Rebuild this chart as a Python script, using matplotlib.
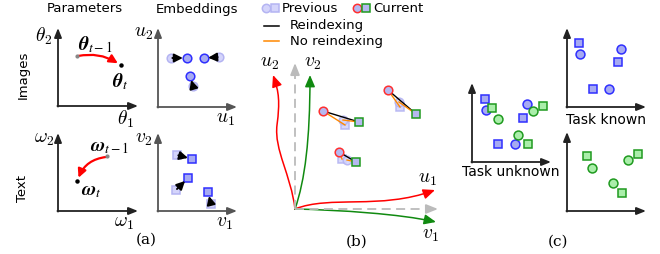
import matplotlib
matplotlib.use("Agg")
import matplotlib.pyplot as plt
from matplotlib.patches import FancyArrowPatch
from matplotlib.path import Path

plt.rcParams["mathtext.fontset"] = "cm"
plt.rcParams["font.family"] = "DejaVu Sans"

# ---- data (pixel space of the 660x254 figure) ----
# (a) embeddings: previous -> current
img_prev = [(171, 58), (219, 57), (193, 86)]
img_curr = [(187, 58), (204, 58), (190, 76)]
txt_prev = [(177, 155), (176, 190), (211, 204)]
txt_curr = [(192, 159), (188, 178), (208, 192)]

# (b) matched pairs
b_curr_circ = [(323, 111), (388, 90), (339, 152)]
b_prev_circ = [(343, 120), (399, 102), (347, 160)]
b_prev_sq = [(345, 125), (400, 107), (342, 159)]
b_curr_sq = [(359, 122), (416, 114), (356, 162)]

# (c) task unknown / known
unk_blue_sq = [(485, 99), (523, 118), (498, 144)]
unk_blue_ci = [(486, 110), (527, 104), (515, 144)]
unk_green_sq = [(492, 108), (543, 106), (528, 144)]
unk_green_ci = [(498, 119), (533, 111), (518, 135)]
kn_blue_sq = [(579, 43), (618, 62), (593, 89)]
kn_blue_ci = [(580, 54), (621, 49), (609, 89)]
kn_green_sq = [(587, 156), (638, 154), (622, 193)]
kn_green_ci = [(592, 168), (628, 160), (613, 183)]

# (b) basis curves, cubic bezier control points (one or two segments)
origin_b = (295, 209)
u1_ctrl = [(330, 195), (380, 210), (435, 190)]
v1_ctrl = [(340, 210), (400, 214), (436, 222)]
u2_ctrl = [(291, 175), (274, 150), (277, 125), (280, 102), (279, 92), (273, 75)]
v2_ctrl = [(305, 180), (310, 140), (310, 75)]

LIGHT_F, LIGHT_E = "#d4d4fb", "#b4b4f2"
BLUE_F, BLUE_E = "#a6aaf2", "#2f2fff"
GREEN_F, GREEN_E = "#aaeeaa", "#1f9a1f"
CUR_F = "#b6b8f0"

fig = plt.figure(figsize=(6.6, 2.54), dpi=100)
ax = fig.add_axes([0, 0, 1, 1])
ax.set_xlim(0, 660)
ax.set_ylim(254, 0)
ax.axis("off")


def axis_pair(x0, y0, x1, ytop, color="#222222"):
    kw = dict(arrowstyle="-|>,head_length=0.55,head_width=0.22", color=color, lw=1.3,
              shrinkA=0, shrinkB=0)
    ax.annotate("", xy=(x1, y0), xytext=(x0 - 0.6, y0), arrowprops=kw)
    ax.annotate("", xy=(x0, ytop), xytext=(x0, y0 + 0.6), arrowprops=kw)


def pts(lst, marker, face, edge, ms, alpha=1.0, z=3):
    xs = [p[0] for p in lst]
    ys = [p[1] for p in lst]
    ax.plot(xs, ys, ls="none", marker=marker, ms=ms, mfc=face, mec=edge, mew=1.1,
            alpha=alpha, zorder=z)


def small_arrow(a, b):
    ax.annotate("", xy=b, xytext=a,
                arrowprops=dict(arrowstyle="-|>,head_length=0.5,head_width=0.25",
                                color="black", lw=1.4, shrinkA=1, shrinkB=3), zorder=4)


# ---------------- (a) ----------------
ax.text(85, 9, "Parameters", ha="center", va="center", fontsize=9.5)
ax.text(197, 9, "Embeddings", ha="center", va="center", fontsize=9.5)
ax.text(23, 75, "Images", ha="center", va="center", rotation=90, fontsize=9.5)
ax.text(23, 188, "Text", ha="center", va="center", rotation=90, fontsize=9.5)

axis_pair(58, 106, 138, 28)
axis_pair(58, 211, 138, 133)
axis_pair(158, 107, 237, 28, color="#555555")
axis_pair(158, 211, 237, 133, color="#555555")

ax.text(44, 36, r"$\theta_2$", ha="center", va="center", fontsize=14)
ax.text(125, 119, r"$\theta_1$", ha="center", va="center", fontsize=14)
ax.text(44, 139, r"$\omega_2$", ha="center", va="center", fontsize=14)
ax.text(124, 223, r"$\omega_1$", ha="center", va="center", fontsize=14)
ax.text(144, 33, r"$u_2$", ha="center", va="center", fontsize=14)
ax.text(225, 119, r"$u_1$", ha="center", va="center", fontsize=14)
ax.text(144, 138, r"$v_2$", ha="center", va="center", fontsize=14)
ax.text(225, 222, r"$v_1$", ha="center", va="center", fontsize=14)

ax.text(95, 45, r"$\boldsymbol{\theta}_{t-1}$", ha="center", va="center", fontsize=14,
        math_fontfamily="stix")
ax.text(120, 82, r"$\boldsymbol{\theta}_{t}$", ha="center", va="center", fontsize=14,
        math_fontfamily="stix")
ax.text(110, 146, r"$\boldsymbol{\omega}_{t-1}$", ha="center", va="center", fontsize=14,
        math_fontfamily="stix")
ax.text(91, 191, r"$\boldsymbol{\omega}_{t}$", ha="center", va="center", fontsize=14,
        math_fontfamily="stix")

ax.plot([77], [56], marker="o", ms=2, color="#888888", zorder=4)
ax.plot([121, 77], [65, 181], ls="none", marker="o", ms=2.2, color="black", zorder=4)
ax.plot([107], [156], marker="o", ms=2, color="#888888", zorder=4)
ax.add_patch(FancyArrowPatch((78, 56), (119, 64), connectionstyle="arc3,rad=-0.2",
                             arrowstyle="-|>,head_length=5,head_width=2.5", color="red",
                             lw=1.6, shrinkA=0, shrinkB=1))
ax.add_patch(FancyArrowPatch((106, 157), (78, 179), connectionstyle="arc3,rad=0.3",
                             arrowstyle="-|>,head_length=5,head_width=2.5", color="red",
                             lw=1.6, shrinkA=0, shrinkB=1))

pts(img_prev, "o", LIGHT_F, LIGHT_E, 6.2)
pts(img_curr, "o", BLUE_F, BLUE_E, 6.2)
pts(txt_prev, "s", LIGHT_F, LIGHT_E, 6.2)
pts(txt_curr, "s", BLUE_F, BLUE_E, 6.2)
for a, b in zip(img_prev + txt_prev, img_curr + txt_curr):
    small_arrow(a, b)

ax.text(146, 240, "(a)", ha="center", va="center", fontsize=11, family="DejaVu Serif")

# ---------------- (b) legend ----------------
ax.plot([266], [8], marker="o", ms=6, mfc=LIGHT_F, mec=LIGHT_E, mew=1.1)
ax.plot([275], [8], marker="s", ms=6, mfc=LIGHT_F, mec=LIGHT_E, mew=1.1)
ax.text(282, 8, "Previous", ha="left", va="center", fontsize=9.5)
ax.plot([357], [8], marker="o", ms=6, mfc=CUR_F, mec="#ff3030", mew=1.1)
ax.plot([366], [8], marker="s", ms=6, mfc=CUR_F, mec=GREEN_E, mew=1.1)
ax.text(373, 8, "Current", ha="left", va="center", fontsize=9.5)
ax.plot([264, 279], [26, 26], color="black", lw=1.1)
ax.text(290, 25, "Reindexing", ha="left", va="center", fontsize=9.5)
ax.plot([264, 279], [41, 41], color="#ff8800", lw=1.1)
ax.text(290, 41, "No reindexing", ha="left", va="center", fontsize=9.5)

# ---------------- (b) basis ----------------
gray = "#bbbbbb"
ax.plot([origin_b[0], 428], [origin_b[1], origin_b[1]], ls=(0, (5, 3)), color=gray, lw=1.3)
ax.plot([origin_b[0], origin_b[0]], [origin_b[1], 72], ls=(0, (5, 3)), color=gray, lw=1.3)
gkw = dict(arrowstyle="-|>,head_length=0.7,head_width=0.28", color=gray, lw=1.3,
           shrinkA=0, shrinkB=0)
ax.annotate("", xy=(438, origin_b[1]), xytext=(426, origin_b[1]), arrowprops=gkw)
ax.annotate("", xy=(origin_b[0], 63), xytext=(origin_b[0], 75), arrowprops=gkw)

for ctrl, col in [(u1_ctrl, "red"), (u2_ctrl, "red"),
                  (v1_ctrl, "#108a10"), (v2_ctrl, "#108a10")]:
    path = Path([origin_b] + ctrl, [Path.MOVETO] + [Path.CURVE4] * len(ctrl))
    ax.add_patch(FancyArrowPatch(path=path, arrowstyle="-|>,head_length=7,head_width=3",
                                 color=col, lw=1.1))

ax.text(270, 62, r"$u_2$", ha="center", va="center", fontsize=14)
ax.text(313, 62, r"$v_2$", ha="center", va="center", fontsize=14)
ax.text(427, 178, r"$u_1$", ha="center", va="center", fontsize=14)
ax.text(431, 235, r"$v_1$", ha="center", va="center", fontsize=14)

pts(b_prev_sq, "s", LIGHT_F, LIGHT_E, 6.2, alpha=0.9)
pts(b_prev_circ, "o", LIGHT_F, LIGHT_E, 6.2, alpha=0.9)
for c, ps, pc, s in zip(b_curr_circ, b_prev_sq, b_prev_circ, b_curr_sq):
    ax.plot([c[0], s[0]], [c[1], s[1]], color="black", lw=1.0, zorder=4)
    ax.plot([c[0], ps[0]], [c[1], ps[1]], color="#ff8800", lw=1.0, zorder=4)
    ax.plot([pc[0], s[0]], [pc[1], s[1]], color="#ff8800", lw=1.0, zorder=4)
pts(b_curr_circ, "o", CUR_F, "#ff3030", 6.2, z=5)
pts(b_curr_sq, "s", CUR_F, GREEN_E, 6.2, z=5)

ax.text(357, 242, "(b)", ha="center", va="center", fontsize=11, family="DejaVu Serif")

# ---------------- (c) ----------------
axis_pair(472, 162, 551, 83)
axis_pair(567, 107, 646, 28)
axis_pair(567, 211, 646, 132)
ax.text(511, 172, "Task unknown", ha="center", va="center", fontsize=10)
ax.text(606, 120, "Task known", ha="center", va="center", fontsize=10)

for lst, m, f, e in [(unk_blue_sq, "s", BLUE_F, BLUE_E), (unk_blue_ci, "o", BLUE_F, BLUE_E),
                     (unk_green_sq, "s", GREEN_F, GREEN_E), (unk_green_ci, "o", GREEN_F, GREEN_E),
                     (kn_blue_sq, "s", BLUE_F, BLUE_E), (kn_blue_ci, "o", BLUE_F, BLUE_E),
                     (kn_green_sq, "s", GREEN_F, GREEN_E), (kn_green_ci, "o", GREEN_F, GREEN_E)]:
    pts(lst, m, f, e, 6.4)

ax.text(558, 242, "(c)", ha="center", va="center", fontsize=11, family="DejaVu Serif")

fig.savefig("out.png", dpi=100)
